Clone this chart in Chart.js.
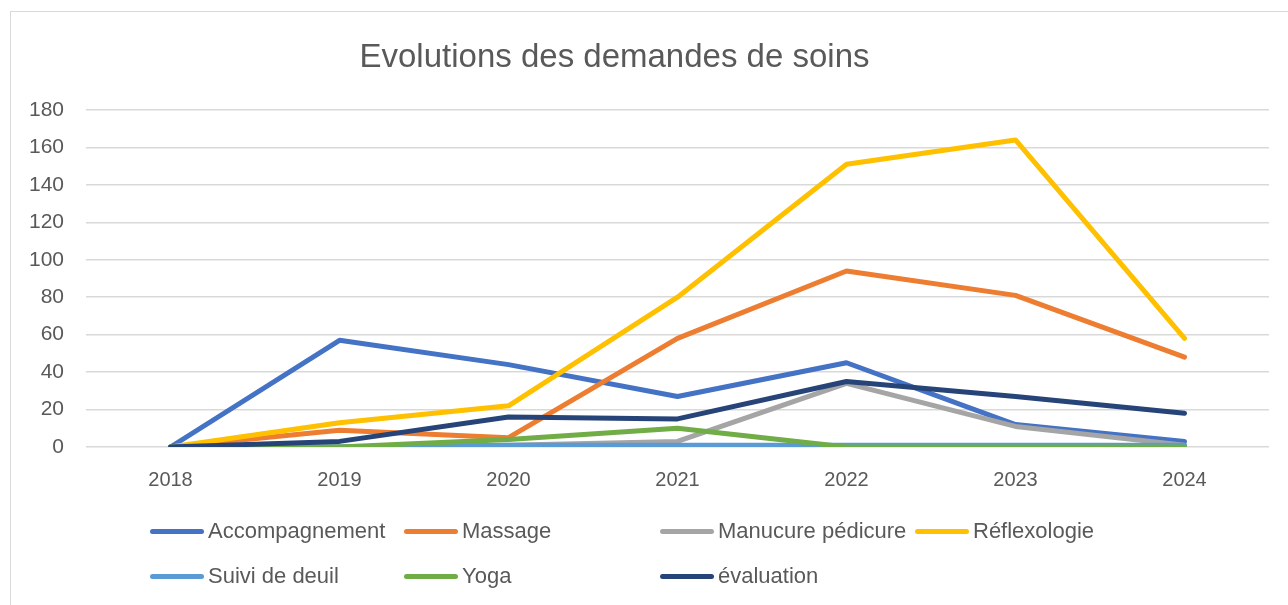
<!DOCTYPE html>
<html>
<head>
<meta charset="utf-8">
<script src="https://cdn.jsdelivr.net/npm/chart.js@4"></script>
<style>
  body { margin: 0; background: #fff; font-family: "Liberation Sans", Arial, sans-serif; }
  #wrap { position: relative; width: 1288px; height: 605px; overflow: hidden; }
  #frame { position: absolute; left: 10px; top: 11px; width: 1300px; height: 620px; border: 1px solid #d9d9d9; box-sizing: border-box; }
  #chart { position: absolute; left: 0; top: 0; }
  #title { position: absolute; left: 0; width: 1229px; top: 37px; text-align: center; font-size: 33px; color: #595959; }
  #legend { position: absolute; left: 150px; top: 515px; display: grid; grid-template-columns: 254px 256px 255px 260px; row-gap: 13px; }
  .item { display: flex; align-items: center; height: 32px; font-size: 22px; color: #595959; white-space: nowrap; }
  .swatch { width: 54px; height: 5px; border-radius: 3px; margin-right: 4px; }
</style>
</head>
<body>
<div id="wrap">
  <div id="frame"></div>
  <canvas id="chart" width="1288" height="605"></canvas>
  <div id="title">Evolutions des demandes de soins</div>
  <div id="legend"></div>
</div>
<script>
// Données
const years = ['2018', '2019', '2020', '2021', '2022', '2023', '2024'];

const accompagnement = [0, 57, 44, 27, 45, 12, 3];
const massage = [0, 9, 5, 58, 94, 81, 48];
const manucure = [0, 0, 1, 3, 34, 11, 1];
const reflexologie = [0, 13, 22, 80, 151, 164, 58];
const suiviDeuil = [0, 0, 1, 1, 1, 1, 1];
const yoga = [0, 0, 4, 10, 0, 0, 0];
const evaluation = [0, 3, 16, 15, 35, 27, 18];

const seriesNames = ['Accompagnement', 'Massage', 'Manucure pédicure', 'Réflexologie', 'Suivi de deuil', 'Yoga', 'évaluation'];
const seriesData = [accompagnement, massage, manucure, reflexologie, suiviDeuil, yoga, evaluation];
const seriesColors = ['#4472C4', '#ED7D31', '#A5A5A5', '#FFC000', '#5B9BD5', '#70AD47', '#264478'];

const yTicks = [0, 20, 40, 60, 80, 100, 120, 140, 160, 180];

const datasets = seriesNames.map((name, i) => ({
    label: name,
    data: seriesData[i],
    borderColor: seriesColors[i],
    backgroundColor: seriesColors[i],
    borderWidth: 5,
    borderCapStyle: 'round',
    borderJoinStyle: 'round',
    pointRadius: 0,
    tension: 0,
    order: seriesNames.length - i
}));

new Chart(document.getElementById('chart'), {
    type: 'line',
    data: { labels: years, datasets: datasets },
    options: {
        responsive: false,
        animation: false,
        layout: { padding: { top: 110, right: 19, bottom: 113, left: 0 } },
        plugins: {
            legend: { display: false },
            title: { display: false },
            tooltip: { enabled: false }
        },
        scales: {
            x: {
                offset: true,
                grid: { display: false, drawTicks: false },
                border: { display: false },
                ticks: { color: '#595959', font: { family: 'Liberation Sans', size: 20 }, padding: 21, maxRotation: 0 },
                afterFit: scale => { scale.height = 45; }
            },
            y: {
                min: 0,
                max: 180,
                afterBuildTicks: scale => { scale.ticks = yTicks.map(v => ({ value: v })); },
                grid: { color: '#d9d9d9', lineWidth: 1.5, drawTicks: false },
                border: { display: false },
                ticks: { color: '#595959', font: { family: 'Liberation Sans', size: 21 }, padding: 22 },
                afterFit: scale => { scale.width = 86; }
            }
        }
    }
});

// Légende
const legend = document.getElementById('legend');
seriesNames.forEach((name, i) => {
    const item = document.createElement('div');
    item.className = 'item';
    item.style.gridColumn = String((i % 4) + 1);
    if (i >= 4) item.style.gridColumn = String(i - 4 + 1);
    item.innerHTML = `<span class="swatch" style="background:${seriesColors[i]}"></span>${name}`;
    legend.appendChild(item);
});
</script>
</body>
</html>
